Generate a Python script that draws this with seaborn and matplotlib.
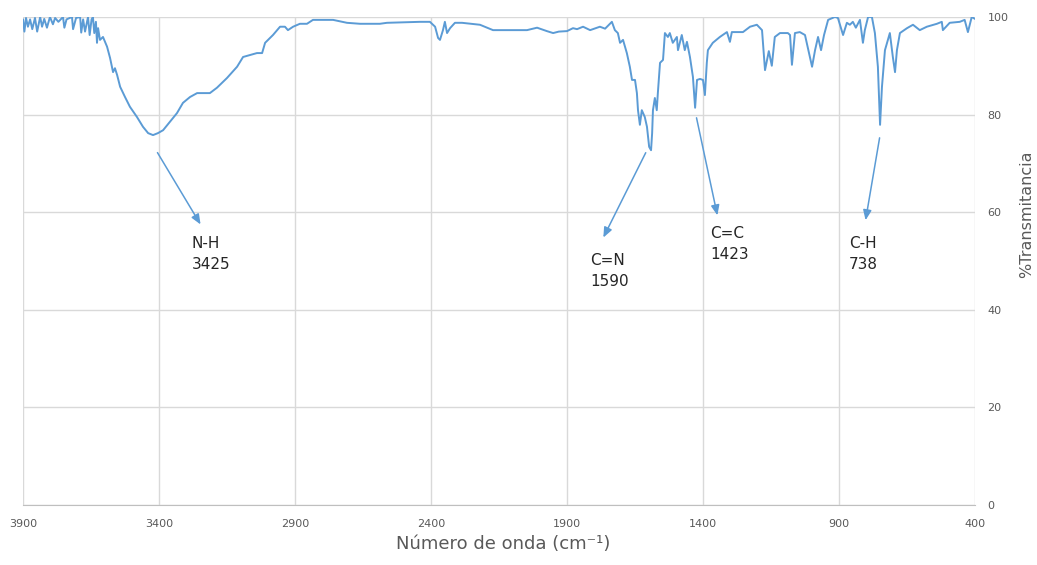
import matplotlib
matplotlib.use("Agg")
import matplotlib.pyplot as plt
import seaborn as sns
import pandas as pd

wavenumber = [3900, 3895, 3889, 3882, 3874, 3866, 3856, 3848, 3837, 3830, 3822, 3812, 3801, 3790, 3782,
              3770, 3753, 3748, 3740, 3720, 3716, 3705, 3690, 3686, 3679, 3672, 3661, 3655, 3648, 3643,
              3638, 3632, 3628, 3624, 3617, 3606, 3591, 3580, 3569, 3562, 3554, 3543, 3525, 3507, 3481,
              3459, 3440, 3422, 3404, 3385, 3360, 3334, 3312, 3286, 3260, 3213, 3187, 3150, 3113, 3091,
              3065, 3040, 3021, 3010, 2981, 2955, 2937, 2926, 2907, 2882, 2856, 2834, 2760, 2709, 2661,
              2588, 2562, 2441, 2404, 2385, 2374, 2367, 2356, 2349, 2341, 2330, 2312, 2286, 2220, 2172,
              2047, 2010, 1974, 1951, 1930, 1900, 1878, 1863, 1841, 1815, 1790, 1779, 1760, 1735, 1724,
              1713, 1705, 1694, 1680, 1669, 1661, 1650, 1643, 1639, 1632, 1625, 1614, 1606, 1598, 1591,
              1587, 1584, 1577, 1570, 1566, 1558, 1547, 1540, 1529, 1522, 1511, 1496, 1492, 1478, 1467,
              1459, 1448, 1437, 1429, 1422, 1411, 1400, 1393, 1386, 1382, 1364, 1338, 1312, 1301, 1294,
              1253, 1227, 1202, 1183, 1172, 1158, 1147, 1136, 1117, 1088, 1080, 1073, 1062, 1044, 1025,
              999, 988, 977, 966, 955, 940, 915, 904, 885, 871, 860, 849, 838, 823, 812,
              805, 793, 779, 768, 757, 749, 742, 731, 713, 702, 694, 687, 676, 650, 628,
              603, 577, 540, 522, 518, 493, 456, 438, 426, 412, 400]
transmittance = [99.5, 97.0, 99.8, 98.0, 99.5, 97.5, 99.8, 97.0, 100, 98.0, 99.6, 97.8, 100, 98.5, 99.8,
                 99.0, 100, 97.8, 99.5, 100, 97.5, 99.8, 100, 96.8, 99.5, 97.0, 100, 96.3, 99.5, 100,
                 96.7, 99.0, 94.7, 97.7, 95.3, 95.9, 93.9, 91.6, 88.7, 89.5, 88.1, 85.7, 83.6, 81.6, 79.5,
                 77.5, 76.2, 75.8, 76.2, 76.8, 78.5, 80.3, 82.4, 83.6, 84.4, 84.4, 85.5, 87.5, 89.8, 91.8,
                 92.2, 92.6, 92.6, 94.7, 96.3, 98.0, 98.0, 97.3, 98.0, 98.6, 98.6, 99.4, 99.4, 98.8, 98.6,
                 98.6, 98.8, 99.0, 99.0, 98.0, 95.7, 95.3, 97.3, 99.0, 96.7, 97.7, 98.8, 98.8, 98.4, 97.3,
                 97.3, 97.8, 97.1, 96.7, 97.0, 97.1, 97.7, 97.5, 98.0, 97.3, 97.8, 98.0, 97.6, 99.0, 97.3,
                 96.7, 94.7, 95.3, 92.6, 89.8, 87.1, 87.1, 84.4, 80.9, 77.9, 80.9, 79.5, 77.5, 73.4, 72.7,
                 76.2, 80.9, 83.4, 80.9, 84.4, 90.6, 91.2, 96.7, 95.9, 96.7, 94.7, 95.9, 93.2, 96.3, 93.2,
                 94.9, 91.8, 87.7, 81.4, 87.1, 87.3, 87.1, 84.0, 90.6, 93.2, 94.7, 95.9, 96.9, 94.9, 96.9,
                 96.9, 98.0, 98.4, 97.3, 89.1, 93.0, 90.0, 95.9, 96.7, 96.7, 96.3, 90.2, 96.7, 96.9, 96.3,
                 89.8, 93.2, 95.9, 93.2, 96.3, 99.4, 100, 99.8, 96.3, 98.8, 98.4, 99.0, 97.8, 99.4, 94.7,
                 97.3, 100, 100, 96.7, 89.8, 77.9, 85.7, 93.2, 96.7, 91.8, 88.7, 93.2, 96.7, 97.7, 98.4,
                 97.3, 98.0, 98.6, 99.0, 97.3, 98.8, 99.0, 99.4, 96.9, 100, 99.6]

x_ticks = [3900, 3400, 2900, 2400, 1900, 1400, 900, 400]
y_ticks = [0, 20, 40, 60, 80, 100]

labels = ["N-H\n3425", "C=N\n1590", "C=C\n1423", "C-H\n738"]
arrow_start_x = [3411, 1606, 1426, 749]
arrow_start_y = [72.7, 72.7, 79.9, 75.8]
arrow_end_x = [3242, 1771, 1345, 804]
arrow_end_y = [57.0, 54.3, 58.8, 57.8]
text_x = [3279, 1815, 1374, 863]
text_y = [55.1, 51.6, 57.2, 55.1]

df = pd.DataFrame({"w": wavenumber, "T": transmittance})

sns.set_style("white")
plt.rcParams['font.family'] = ['DejaVu Sans']

fig = plt.figure(figsize=(10.37, 5.65), dpi=100)
ax = fig.add_axes([0.0222, 0.106, 0.918, 0.864])

line_color = "#5b9bd5"
sns.lineplot(data=df, x="w", y="T", ax=ax, color=line_color, lw=1.4, estimator=None, sort=False)

ax.set_xlim(3900, 400)
ax.set_ylim(0, 100)
ax.set_xticks(x_ticks)
ax.set_yticks(y_ticks)
ax.yaxis.tick_right()
ax.yaxis.set_label_position("right")
ax.grid(True, color="#d9d9d9", lw=1.0)
for s in ["top", "left", "right"]:
    ax.spines[s].set_visible(False)
ax.spines["bottom"].set_color("#bfbfbf")
ax.tick_params(axis="both", length=0, labelsize=8, colors="#595959")
ax.tick_params(axis="x", pad=10)
ax.tick_params(axis="y", pad=9)
ax.set_xlabel("")
ax.set_ylabel("")

fig.text(0.485, 0.022, "Número de onda (cm⁻¹)", ha="center", va="bottom", fontsize=13, color="#595959")
fig.text(0.99, 0.62, "%Transmitancia", ha="center", va="center", rotation=90, fontsize=11.5, color="#595959")

for lab, sx, sy, ex, ey, tx, ty in zip(labels, arrow_start_x, arrow_start_y, arrow_end_x, arrow_end_y, text_x, text_y):
    ax.annotate("", xy=(ex, ey), xytext=(sx, sy),
                arrowprops=dict(arrowstyle="-|>,head_length=0.6,head_width=0.25", color=line_color, lw=1.1))
    ax.text(tx, ty, lab, ha="left", va="top", fontsize=11, color="#262626", linespacing=1.5)

fig.savefig("out.png", dpi=100)
